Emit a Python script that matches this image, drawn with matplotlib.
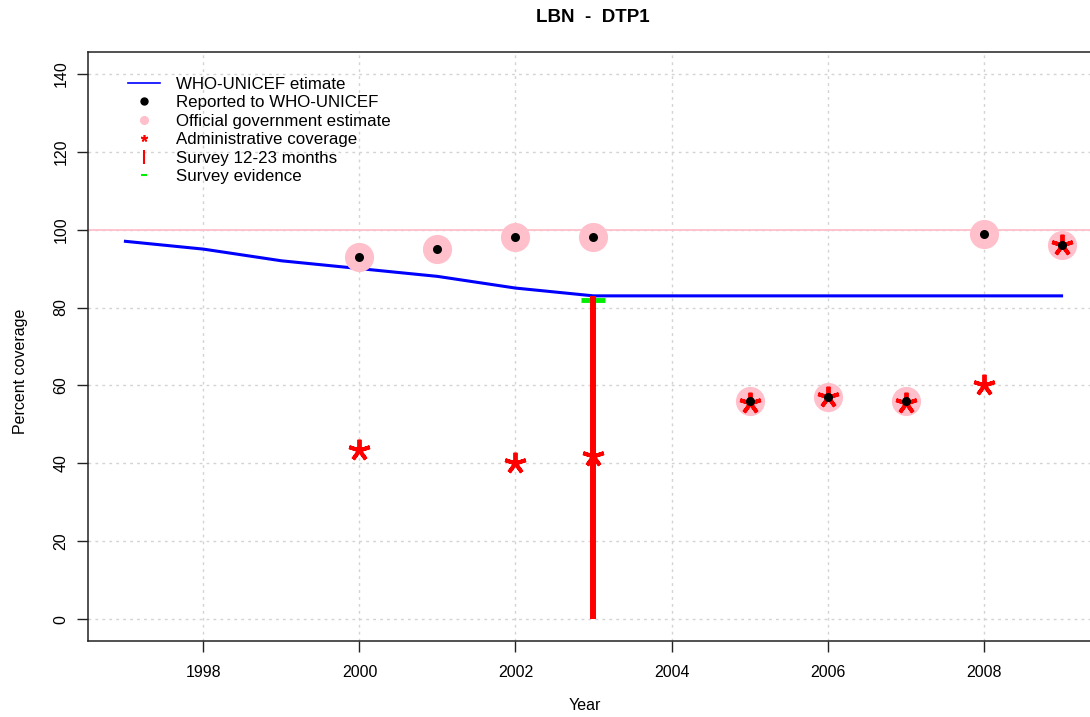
import matplotlib
matplotlib.use("Agg")
import matplotlib.pyplot as plt
from matplotlib.lines import Line2D

plt.rcParams['font.family'] = ['Liberation Sans', 'DejaVu Sans']

# ---- data ----
est_years = [1997, 1998, 1999, 2000, 2001, 2002, 2003, 2004, 2005, 2006, 2007, 2008, 2009]
est_values = [97, 95, 92, 90, 88, 85, 83, 83, 83, 83, 83, 83, 83]

rep_years = [2000, 2001, 2002, 2003, 2005, 2006, 2007, 2008, 2009]
rep_values = [93, 95, 98, 98, 56, 57, 56, 99, 96]

gov_years = [2000, 2001, 2002, 2003, 2005, 2006, 2007, 2008, 2009]
gov_values = [93, 95, 98, 98, 56, 57, 56, 99, 96]

adm_years = [2000, 2002, 2003, 2005, 2006, 2007, 2008, 2009]
adm_values = [43.5, 40, 42, 55.5, 57, 55.5, 60, 96]

survey_years = [2003]
survey_values = [83]

evid_years = [2003]
evid_values = [82]

ref_level = 100

x_ticks = [1998, 2000, 2002, 2004, 2006, 2008]
y_ticks = [0, 20, 40, 60, 80, 100, 120, 140]

legend_labels = ["WHO-UNICEF etimate", "Reported to WHO-UNICEF",
                 "Official government estimate", "Administrative coverage",
                 "Survey 12-23 months", "Survey evidence"]

# ---- figure ----
W, H = 1090, 717
fig = plt.figure(figsize=(W / 100, H / 100), dpi=100)
ax = fig.add_axes([88 / W, 76 / H, 1011 / W, 589 / H])
ax.set_xlim(1996.52, 2009.48)
ax.set_ylim(-5.6, 145.6)

ax.set_xticks(x_ticks)
ax.set_yticks(y_ticks)
ax.set_xticklabels([str(t) for t in x_ticks], fontsize=11.5)
ax.set_yticklabels([str(t) for t in y_ticks], fontsize=11.5, rotation=90, va='center')
ax.tick_params(axis='both', direction='out', length=8, width=1, color='#222222')
ax.tick_params(axis='x', pad=9)
ax.tick_params(axis='y', pad=6)
for s in ax.spines.values():
    s.set_linewidth(1.1)
    s.set_color('#222222')

ax.grid(True, linestyle=(0, (2, 3)), color='#D3D3D3', linewidth=1)
ax.set_axisbelow(True)

ax.axhline(ref_level, color='pink', linewidth=1.3, zorder=1)

# survey evidence (green)
ax.plot(evid_years, evid_values, linestyle='none', marker='_', markersize=17,
        markeredgewidth=3.5, color='#00EE00', zorder=2)
# estimate line
ax.plot(est_years, est_values, color='#0000FF', linewidth=2.2, zorder=3)
# survey 12-23 months
for yv, val in zip(survey_years, survey_values):
    ax.vlines(yv, 0, val, color='#FF0000', linewidth=4.3, zorder=4)
# official government estimate
ax.plot(gov_years, gov_values, linestyle='none', marker='o', markersize=21,
        color='pink', markeredgewidth=0, zorder=5)
# administrative coverage
ax.plot(adm_years, adm_values, linestyle='none', marker=(5, 2, 0), markersize=15.5,
        markeredgewidth=2.8, color='#FF0000', zorder=6)
# reported
ax.plot(rep_years, rep_values, linestyle='none', marker='o', markersize=6.5,
        color='black', markeredgewidth=0, zorder=7)

ax.set_xlabel("Year", fontsize=11.5, labelpad=0)
ax.xaxis.set_label_coords(585 / W, 1 - 698 / H, transform=fig.transFigure)
ax.set_ylabel("Percent coverage", fontsize=11.5)
ax.yaxis.set_label_coords(28 / W, 346 / H, transform=fig.transFigure)

fig.text(593 / W, 1 - 17 / H, "LBN  -  DTP1", fontsize=13.5, fontweight='bold',
         ha='center', va='center')

# ---- legend (no frame) ----
handles = [
    Line2D([0], [0], color='#0000FF', linewidth=1.2),
    Line2D([0], [0], linestyle='none', marker='o', markersize=5, color='black'),
    Line2D([0], [0], linestyle='none', marker='o', markersize=5.5, color='pink'),
    Line2D([0], [0], linestyle='none', marker=(5, 2, 0), markersize=5, markeredgewidth=1.2, color='#FF0000'),
    Line2D([0], [0], linestyle='none', marker='|', markersize=10, markeredgewidth=1.5, color='#FF0000'),
    Line2D([0], [0], linestyle='none', marker='_', markersize=4, markeredgewidth=1.5, color='#00EE00'),
]
leg = ax.legend(handles, legend_labels, loc='upper left', frameon=False,
                bbox_to_anchor=(128 / W, 1 - 77 / H), bbox_transform=fig.transFigure,
                fontsize=12.2, handlelength=1.9, handletextpad=0.95, labelspacing=0.2,
                borderpad=0, borderaxespad=0)

fig.savefig("out.png", dpi=100)
